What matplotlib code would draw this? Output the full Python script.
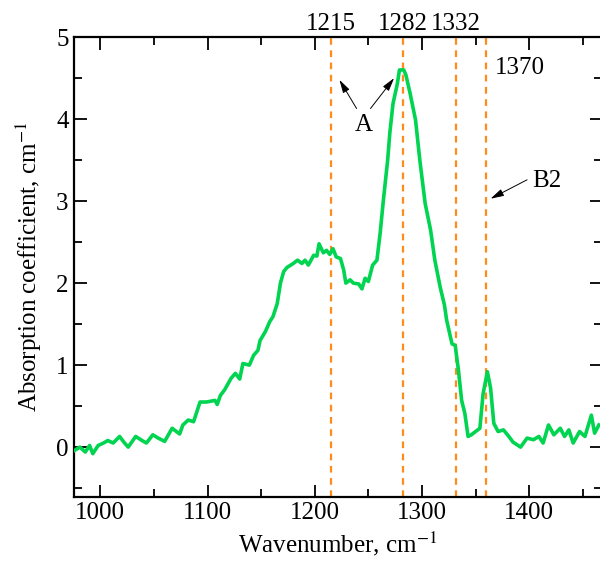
import matplotlib
matplotlib.use("Agg")
import matplotlib.pyplot as plt
from matplotlib.ticker import MultipleLocator

plt.rcParams['font.family'] = ['Liberation Serif', 'DejaVu Serif']
plt.rcParams['mathtext.fontset'] = 'stix'

wavenumber = [976, 981, 986, 990, 993, 998, 1003, 1007, 1012, 1018, 1022, 1026, 1033, 1039, 1043,
              1049, 1054, 1060, 1067, 1074, 1077, 1082, 1087, 1093, 1099, 1107, 1109, 1112, 1116,
              1122, 1126, 1130, 1133, 1139, 1143, 1147, 1149, 1154, 1158, 1161, 1165, 1168, 1171,
              1174, 1180, 1184, 1188, 1191, 1194, 1199, 1202, 1204, 1208, 1211, 1214, 1217, 1220,
              1224, 1227, 1229, 1233, 1236, 1241, 1244, 1247, 1250, 1254, 1258, 1261, 1264, 1268,
              1270, 1273, 1277, 1279, 1283, 1285, 1289, 1294, 1298, 1303, 1308, 1312, 1317, 1321,
              1323, 1328, 1331, 1334, 1337, 1340, 1343, 1346, 1350, 1354, 1357, 1361, 1364, 1367,
              1371, 1376, 1381, 1385, 1392, 1398, 1404, 1409, 1413, 1418, 1423, 1426, 1429, 1433,
              1437, 1441, 1447, 1452, 1458, 1461, 1465]
absorption = [-0.04, 0.00, -0.06, 0.02, -0.08, 0.02, 0.05, 0.08, 0.05, 0.13, 0.06, 0.00, 0.13, 0.08, 0.05,
              0.15, 0.11, 0.07, 0.23, 0.16, 0.27, 0.33, 0.31, 0.55, 0.55, 0.57, 0.52, 0.63, 0.70,
              0.84, 0.90, 0.83, 1.02, 1.00, 1.12, 1.18, 1.30, 1.41, 1.53, 1.59, 1.75, 2.00, 2.14,
              2.19, 2.24, 2.28, 2.24, 2.28, 2.22, 2.34, 2.33, 2.48, 2.37, 2.40, 2.35, 2.42, 2.32,
              2.30, 2.16, 2.00, 2.04, 2.00, 1.99, 1.93, 2.06, 2.02, 2.22, 2.28, 2.61, 3.01, 3.50,
              3.83, 4.19, 4.43, 4.60, 4.60, 4.54, 4.31, 3.99, 3.50, 2.97, 2.65, 2.28, 1.95, 1.73,
              1.55, 1.26, 1.24, 0.94, 0.57, 0.41, 0.13, 0.15, 0.19, 0.23, 0.65, 0.92, 0.72, 0.29,
              0.19, 0.21, 0.13, 0.06, 0.00, 0.11, 0.09, 0.13, 0.05, 0.27, 0.15, 0.19, 0.23, 0.13,
              0.21, 0.05, 0.19, 0.13, 0.39, 0.17, 0.27]

line_positions = [1215, 1282, 1332, 1360]
line_labels = ['1215', '1282', '1332', '1370']

xticks = [1000, 1100, 1200, 1300, 1400]
yticks = [0, 1, 2, 3, 4, 5]

fig = plt.figure(figsize=(6.0, 5.63), dpi=100)
ax = fig.add_axes([0.1225, 0.117, 0.881, 0.817])

ax.plot(wavenumber, absorption, color='#00d450', lw=2.6, zorder=3,
        solid_joinstyle='round')
for xp in line_positions:
    ax.axvline(xp, color='#ff8c1a', lw=1.6, ls=(0, (3, 2.5)), zorder=2)

ax.set_xlim(975, 1468)
ax.set_ylim(-0.61, 5.0)
ax.set_xticks(xticks)
ax.set_yticks(yticks)
ax.xaxis.set_minor_locator(MultipleLocator(50))
ax.yaxis.set_minor_locator(MultipleLocator(0.5))
ax.tick_params(which='both', direction='in', top=True, right=True, labelsize=18, width=1.3)
ax.tick_params(which='major', length=9)
ax.tick_params(which='minor', length=6)
for s in ax.spines.values():
    s.set_linewidth(1.6)

ax.set_xlabel('Wavenumber, cm$^{-1}$', fontsize=18, labelpad=4)
ax.set_ylabel('Absorption coefficient, cm$^{-1}$', fontsize=18, labelpad=9)

# labels above top axis
for xp, lab in zip(line_positions[:3], line_labels[:3]):
    ax.text(xp, 1.028, lab, transform=ax.get_xaxis_transform(), ha='center', va='center',
            fontsize=18, clip_on=False)
ax.text(1391, 4.62, line_labels[3], ha='center', va='center', fontsize=18)

# annotations
arrowprops = dict(arrowstyle='-|>,head_length=0.8,head_width=0.22', color='#555555', fc='black',
                  ec='black', lw=0.7, mutation_scale=10, shrinkA=0, shrinkB=0)
ax.text(1246, 3.93, 'A', ha='center', va='center', fontsize=18)
ax.annotate('', xy=(1223, 4.48), xytext=(1239, 4.13), arrowprops=arrowprops)
ax.annotate('', xy=(1274, 4.50), xytext=(1252, 4.13), arrowprops=arrowprops)
ax.text(1416, 3.24, 'B2', ha='center', va='center', fontsize=18)
ax.annotate('', xy=(1364, 3.03), xytext=(1398, 3.26), arrowprops=arrowprops)

fig.savefig('out.png', dpi=100)
